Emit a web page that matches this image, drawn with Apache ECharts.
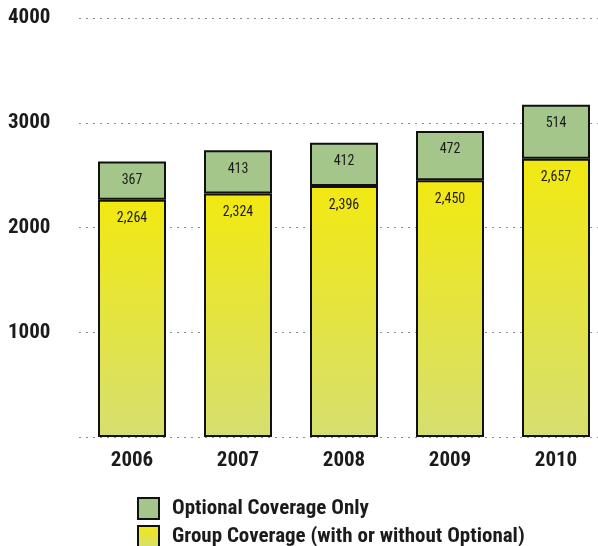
<!DOCTYPE html>
<html>
<head>
<meta charset="utf-8">
<script src="https://cdn.jsdelivr.net/npm/echarts@6/dist/echarts.min.js"></script>
<style>
  html, body { margin: 0; padding: 0; background: #fff; }
  #chart { width: 598px; height: 546px; }
</style>
</head>
<body>
<div id="chart"></div>
<script>
// Enrollment by year, stacked: group coverage plus optional-only coverage
const years = ['2006', '2007', '2008', '2009', '2010'];
const groupCoverage = [2264, 2324, 2396, 2450, 2657];
const optionalOnly = [367, 413, 412, 472, 514];
const yTicks = [0, 1000, 2000, 3000, 4000];
const legendNames = ['Optional Coverage Only', 'Group Coverage (with or without Optional)'];

const FONT = '"Roboto Condensed", "Liberation Sans Narrow", sans-serif';
const INK = '#1d1a1b';

const chart = echarts.init(document.getElementById('chart'));

const fmt = v => v.toLocaleString('en-US');

// one legend block per row so the two entries stack vertically
const legendRow = (name, top) => ({
  left: 137,
  top: top,
  padding: 0,
  icon: 'rect',
  itemWidth: 21,
  itemHeight: 21,
  data: [name],
  textStyle: { fontFamily: FONT, fontWeight: 'bold', fontSize: 21, color: INK, padding: [0, 0, 0, 8] }
});

const segmentLabel = {
  show: true,
  position: 'insideTop',
  distance: 12,
  fontFamily: FONT, fontSize: 14, color: INK,
  formatter: p => fmt(p.value)
};

chart.setOption({
  animation: false,
  grid: { left: 79, top: 18, width: 530, height: 419, containLabel: false, outerBoundsMode: 'none' },
  legend: [legendRow(legendNames[0], 497), legendRow(legendNames[1], 525)],
  xAxis: {
    type: 'category',
    data: years,
    axisLine: { show: false },
    axisTick: { show: false },
    axisLabel: { fontFamily: FONT, fontWeight: 'bold', fontSize: 21, color: INK, margin: 13 }
  },
  yAxis: {
    type: 'value',
    min: yTicks[0],
    max: yTicks[yTicks.length - 1],
    interval: 1000,
    axisLine: { show: false },
    axisTick: { show: false },
    axisLabel: {
      fontFamily: FONT, fontWeight: 'bold', fontSize: 21, color: INK,
      align: 'left', margin: 71,
      formatter: v => yTicks.includes(v) && v !== 0 ? String(v) : ''
    },
    splitLine: { lineStyle: { color: '#8a8a8a', width: 1, type: [2, 5] } }
  },
  series: [
    {
      name: legendNames[1],
      type: 'bar',
      stack: 'total',
      barWidth: 68,
      data: groupCoverage,
      itemStyle: {
        color: new echarts.graphic.LinearGradient(0, 0, 0, 1, [
          { offset: 0, color: '#f2e911' },
          { offset: 1, color: '#d6df70' }
        ]),
        borderColor: '#111',
        borderWidth: 2
      },
      label: segmentLabel
    },
    {
      name: legendNames[0],
      type: 'bar',
      stack: 'total',
      barWidth: 68,
      data: optionalOnly,
      itemStyle: { color: '#a4c68b', borderColor: '#111', borderWidth: 2 },
      label: segmentLabel
    }
  ]
});
</script>
</body>
</html>
